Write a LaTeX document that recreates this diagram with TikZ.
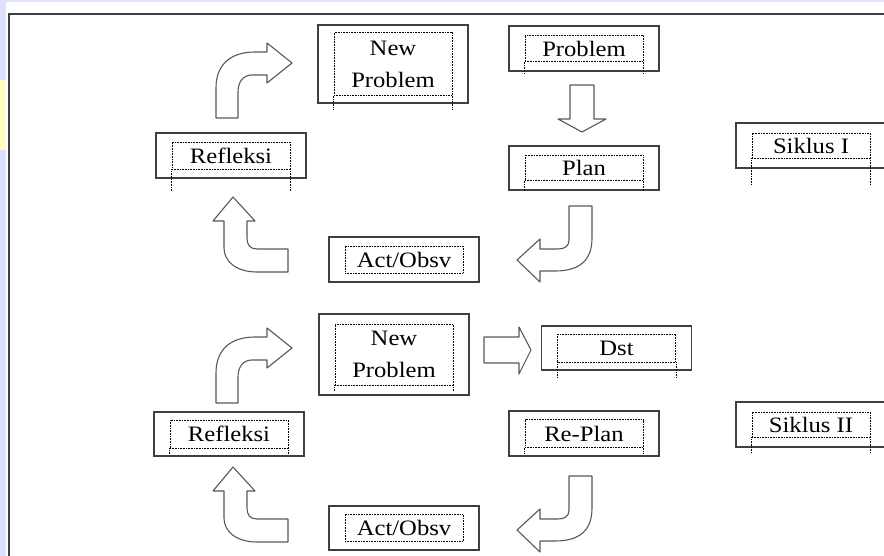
\documentclass[tikz,border=0pt]{standalone}
\usepackage{fontspec}
\newfontfamily\boxfont[FakeStretch=1.12]{Liberation Serif}
\tikzset{
  outerbox/.style={draw=black!75, line width=1.2pt, minimum width=150pt, inner sep=0pt},
  innerbox/.style={draw=black, line width=0.7pt, dash pattern=on 0.8pt off 0.8pt,
                   minimum width=118pt, inner sep=0pt, align=center,
                   font=\boxfont\fontsize{22}{25}\selectfont},
  extline/.style={draw=black, line width=0.7pt, dash pattern=on 0.8pt off 0.8pt},
  blockarrow/.style={draw=black!65, fill=white, line width=1.1pt, line join=round}
}

\begin{document}
\begin{tikzpicture}[x=1pt,y=-1pt]
\useasboundingbox (0,0) rectangle (884,556);
\clip (0,0) rectangle (884,556);
\fill[white] (0,0) rectangle (884,556);
% page background
\fill[blue!12!white] (0,0) rectangle (6,556);
\fill[blue!12!white] (0,0) rectangle (884,2);
\fill[yellow!25!white] (0,80) rectangle (6,150);
\draw[black!75, line width=1.5pt] (9,556) -- (9,14) -- (884,14);

% the stages
\foreach \nm/\cx/\cy/\oh/\ih/\ext/\txt in {
    np1/393/64/78/63/13/{New\\[7pt]Problem},
    pr1/584/48.5/45/26/12/{Problem},
    pl1/584/168/44/25/11/{Plan},
    sk1/811/145.5/45/25/26/{Siklus I},
    rf1/231/155.5/45/27/22/{Refleksi},
    ao1/404/259.5/45/27/0/{Act/Obsv},
    np2/394/354.5/81/61/5/{New\\[7pt]Problem},
    ds2/616.5/348/44/28/15/{Dst},
    rp2/584/433.5/45/28/6/{Re-Plan},
    sk2/811/424.5/45/25/16/{Siklus II},
    rf2/229/434/44/28/5/{Refleksi},
    ao2/404/528/44/27/0/{Act/Obsv}}
{
  \node[outerbox, minimum height=\oh] (\nm) at (\cx,\cy) {};
  \node[innerbox, minimum height=\ih] (\nm-in) at (\nm.center) {\txt};
  \draw[extline] (\nm-in.south west) -- ++(0,\ext);
  \draw[extline] (\nm-in.south east) -- ++(0,\ext);
}

% bent arrows up and right
\foreach \dy in {0,285}
  \draw[blockarrow, shift={(0,\dy)}] (216,118) -- (216,88)
        .. controls (216,65) and (230,52) .. (255,52) -- (267,52) -- (267,43)
        -- (292,63) -- (267,83) -- (267,75) -- (252,75)
        .. controls (243,75) and (238,82) .. (238,92) -- (238,118) -- cycle;

% bent arrows right and up
\foreach \dy in {0,270}
  \draw[blockarrow, shift={(0,\dy)}] (233,197) -- (255,221) -- (247,221) -- (247,238)
        .. controls (247,245) and (250,249) .. (257,249) -- (288,249) -- (288,272)
        -- (257,272) .. controls (237,272) and (224,262) .. (224,248)
        -- (224,221) -- (213,221) -- cycle;

% bent arrows down and left
\foreach \dy in {0,270}
  \draw[blockarrow, shift={(0,\dy)}] (569,206) -- (592,206) -- (592,238)
        .. controls (592,260) and (580,271) .. (555,271) -- (540,271) -- (540,282)
        -- (517,260) -- (540,239) -- (540,249) -- (558,249)
        .. controls (565,249) and (569,246) .. (569,240) -- cycle;

% straight arrows
\draw[blockarrow] (570,85) -- (594,85) -- (594,119) -- (606,119) -- (582,132)
      -- (558,119) -- (570,119) -- cycle;
\draw[blockarrow] (484,337) -- (519,337) -- (519,327) -- (531,350) -- (519,374)
      -- (519,363) -- (484,363) -- cycle;
\end{tikzpicture}
\end{document}
